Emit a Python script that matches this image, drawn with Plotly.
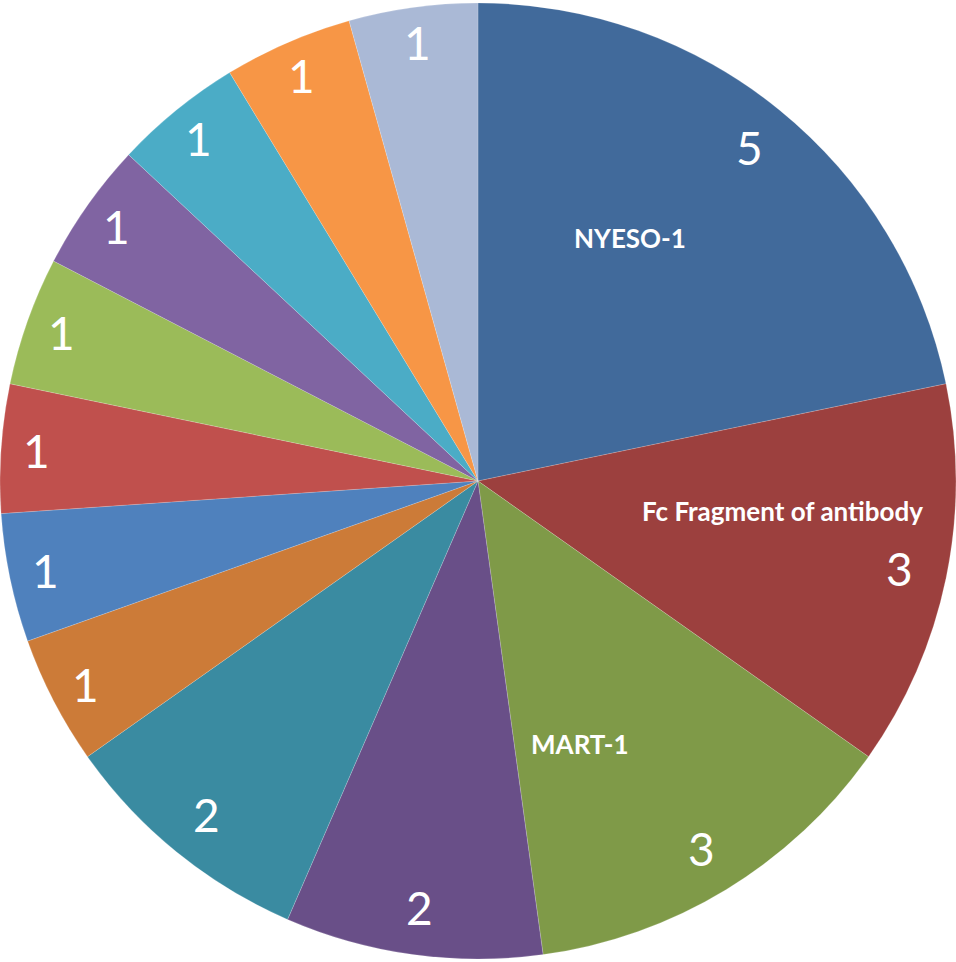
import math
import plotly.graph_objects as go

# Target antigens and number of entries for each
categories = [
    "NYESO-1", "Fc Fragment of antibody", "MART-1",
    "Target 4", "Target 5", "Target 6", "Target 7", "Target 8",
    "Target 9", "Target 10", "Target 11", "Target 12", "Target 13",
]
counts = [5, 3, 3, 2, 2, 1, 1, 1, 1, 1, 1, 1, 1]
# Only these categories carry a visible name label
named = ["NYESO-1", "Fc Fragment of antibody", "MART-1"]

colors = [
    "#416A9B", "#9C403E", "#7F9A48", "#694F88", "#3A8BA1",
    "#CC7B38", "#4F81BD", "#C0504D", "#9BBB59", "#8064A2",
    "#4BACC6", "#F79646", "#AAB9D6",
]

W, H = 956, 962
R = min(W, H) / 2
cx, cy = W / 2, H / 2

fig = go.Figure(go.Pie(
    labels=categories,
    values=counts,
    sort=False,
    direction="clockwise",
    rotation=0,
    textinfo="none",
    hoverinfo="label+value",
    marker=dict(colors=colors, line=dict(color="rgba(255,255,255,0.35)", width=0.5)),
    domain=dict(x=[0, 1], y=[0, 1]),
    showlegend=False,
))


def to_paper(angle_deg, frac):
    a = math.radians(angle_deg)
    px = cx + frac * R * math.sin(a)
    py = cy - frac * R * math.cos(a)
    return px / W, 1 - py / H


total = sum(counts)
annotations = []
start = 0.0
for cat, v in zip(categories, counts):
    span = 360.0 * v / total
    mid = start + span / 2
    frac = 0.90 if v > 1 else 0.925
    x, y = to_paper(mid, frac)
    annotations.append(dict(
        x=x, y=y, xref="paper", yref="paper", text=str(v), showarrow=False,
        font=dict(family="Lato, Calibri, sans-serif", size=46, color="white"),
        xanchor="center", yanchor="middle",
    ))
    start += span

# Name label placement: angle (deg clockwise from top) and radius fraction
name_pos = {"NYESO-1": (32.0, 0.60), "Fc Fragment of antibody": (95.6, 0.64), "MART-1": (158.8, 0.59)}
for name in named:
    ang, fr = name_pos[name]
    x, y = to_paper(ang, fr)
    annotations.append(dict(
        x=x, y=y, xref="paper", yref="paper", text="<b>%s</b>" % name, showarrow=False,
        font=dict(family="Lato, Calibri, sans-serif", size=26, color="white"),
        xanchor="center", yanchor="middle",
    ))

fig.update_layout(
    width=W, height=H,
    margin=dict(l=0, r=0, t=0, b=0),
    paper_bgcolor="white",
    plot_bgcolor="white",
    annotations=annotations,
)

fig.write_html("out.html")
